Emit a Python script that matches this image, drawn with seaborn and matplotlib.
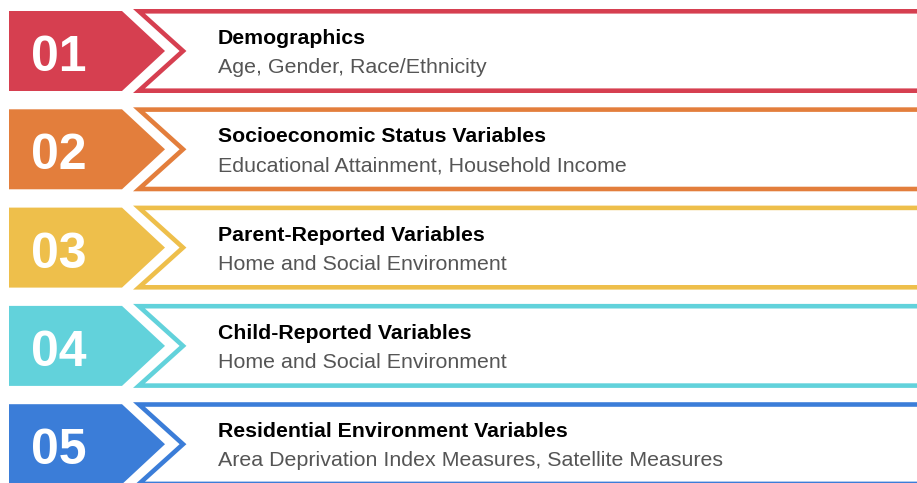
import matplotlib
matplotlib.use("Agg")
import matplotlib.pyplot as plt
import seaborn as sns

# content of the five steps
numbers = ["01", "02", "03", "04", "05"]
titles = [
    "Demographics",
    "Socioeconomic Status Variables",
    "Parent-Reported Variables",
    "Child-Reported Variables",
    "Residential Environment Variables",
]
subtitles = [
    "Age, Gender, Race/Ethnicity",
    "Educational Attainment, Household Income",
    "Home and Social Environment",
    "Home and Social Environment",
    "Area Deprivation Index Measures, Satellite Measures",
]
colors = ["#D63F50", "#E37E3C", "#EEBF4B", "#62D2DB", "#3B7DD8"]

sns.set_theme(style="white")
plt.rcParams["font.family"] = ["Liberation Sans", "DejaVu Sans"]

fig = plt.figure(figsize=(9.17, 4.83), dpi=100)
ax = fig.add_axes([0, 0, 1, 1])
ax.set_xlim(0, 917)
ax.set_ylim(483, 0)
ax.axis("off")

pitch = 98.3
h = 80
for i, (num, title, sub, col) in enumerate(zip(numbers, titles, subtitles, colors)):
    top = 11 + pitch * i
    bot = top + h
    mid = (top + bot) / 2

    # solid arrow block with the number
    ax.fill([9, 122, 165, 122, 9], [top, top, mid, bot, bot], color=col, lw=0)

    # outlined band with a notch on the left
    ax.plot([950, 139, 183, 139, 950],
            [top + 0.3, top + 0.3, mid, bot - 0.3, bot - 0.3],
            color=col, lw=3.3, solid_joinstyle="miter", solid_capstyle="butt")

    ax.text(59, top + 60, num, color="white", fontsize=36, fontweight="bold",
            ha="center", va="baseline")
    ax.text(218, top + 33, title, color="black", fontsize=15.3, fontweight="bold",
            ha="left", va="baseline")
    ax.text(218, top + 62, sub, color="#555555", fontsize=15.4,
            ha="left", va="baseline")

fig.savefig("out.png", dpi=100)
